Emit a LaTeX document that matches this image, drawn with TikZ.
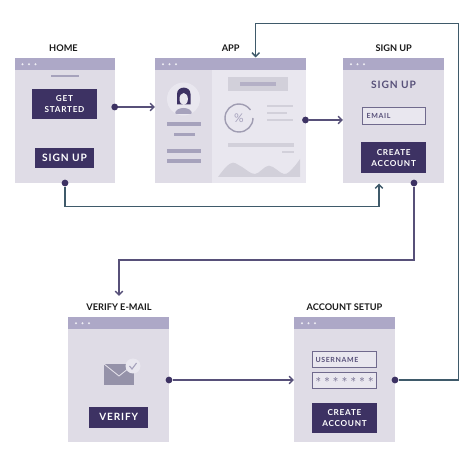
\documentclass[tikz,border=0pt]{standalone}
\usepackage{fontspec}
\usepackage{xcolor}
\setmainfont{Lato}
\newfontfamily\widefont[LetterSpace=9]{Lato}
\usetikzlibrary{arrows.meta,calc,positioning}
\definecolor{winbody}{HTML}{DFDCE6}
\definecolor{winlight}{HTML}{E9E7EF}
\definecolor{winbar}{HTML}{ADA8C7}
\definecolor{inkdark}{HTML}{3D3263}
\definecolor{inkline}{HTML}{575079}
\definecolor{inkteal}{HTML}{3F5A6A}
\definecolor{inkgrey}{HTML}{A6A2BC}
\definecolor{palegrey}{HTML}{D2D0DA}
\tikzset{
  window/.style={fill=winbody,anchor=north west,inner sep=0pt,minimum width=#1,minimum height=125},
  title/.style={font=\bfseries\fontsize{9.2}{10}\selectfont,text=black!90,inner sep=0pt},
  button/.style={fill=inkdark,text=white,font=\widefont\bfseries\fontsize{8.2}{11}\selectfont,
    align=center,inner sep=0pt},
  field/.style={fill=winlight,draw=inkline!85,line width=0.9pt,text=inkline,inner sep=0pt,
    font=\widefont\bfseries\fontsize{7}{8}\selectfont},
  portdot/.style={circle,fill=inkdark,inner sep=0pt,minimum size=6.8},
  linkline/.style={-{Straight Barb[length=3.8pt,width=7.5pt]},line width=1.5pt,inkline},
  linkteal/.style={linkline,inkteal},
}
\begin{document}
\begin{tikzpicture}[x=1pt,y=-1pt]
    \useasboundingbox (0,0) rectangle (472,457);
    \node[window=100.5] (home) at (14.5,58) {};
    \node[window=150.5] (app) at (155,58) {};
    \node[window=101] (signup) at (343,58) {};
    \node[window=101] (verify) at (68,317) {};
    \node[window=101] (setup) at (294,317) {};
    \fill[winlight] (212,58) rectangle (app.south east);
    \foreach \win in {home,app,signup,verify,setup} {
      \fill[winbar] (\win.north west) rectangle ($(\win.north east)+(0,12.5)$);
      \foreach \dotx in {8,14.5,21}
        \fill[white!80!winbar] ($(\win.north west)+(\dotx,6.2)$) circle (1.1);
    }
    \node[title] (hometitle) at (63.5,47.7) {HOME};
    \node[title] (apptitle) at (230.7,47.7) {APP};
    \node[title] (signuptitle) at (393.7,47.7) {SIGN UP};
    \node[title] (verifytitle) at (119,307) {VERIFY E-MAIL};
    \node[title] (setuptitle) at (344.5,307) {ACCOUNT SETUP};
    \fill[inkgrey] (51,75) rectangle (79,77.5);
    \node[button,minimum width=65,minimum height=30.5] (getstarted) at (64.5,104) {GET\\STARTED};
    \node[button,minimum width=59,minimum height=20.5,font=\widefont\bfseries\fontsize{10.2}{11}\selectfont] (homesign) at (64.5,158) {SIGN UP};
    \node[text=inkline,font=\widefont\bfseries\fontsize{10.2}{11}\selectfont,inner sep=0pt] (signuphead) at (393.5,85) {SIGN UP};
    \node[field,minimum width=63,minimum height=17.5,text width=54,align=left] (email) at (393.7,116) {EMAIL};
    \node[button,minimum width=65,minimum height=30.5] (createone) at (393.7,157.7) {CREATE\\ACCOUNT};
    \node[field,minimum width=64,minimum height=16,text width=58,align=left] (username) at (344.5,359.5) {USERNAME};
    \node[field,minimum width=64,minimum height=16,text width=58,align=left,font=\bfseries\fontsize{11}{8}\selectfont] (password) at (344.5,380) {$\ast\,\ast\,\ast\,\ast\,\ast\,\ast\,\ast$};
    \node[button,minimum width=65,minimum height=30] (createtwo) at (344.5,418) {CREATE\\ACCOUNT};
    \node[button,minimum width=59.5,minimum height=20.5,font=\widefont\bfseries\fontsize{10}{11}\selectfont] (verifybtn) at (118.7,417.3) {VERIFY};
    \fill[inkgrey!90!black] (104,364) rectangle (134,385);
    \draw[winbody,line width=0.9pt] (104,364) -- (119,376) -- (134,364);
    \fill[winlight] (133,366) circle (7.5);
    \draw[inkgrey,line width=1.1pt] (129.5,366) -- (132,369) -- (136.5,363);
    \fill[winlight] (183.5,99) circle (16.5);
    \begin{scope}
      \clip (183.5,99) circle (16.5);
      \fill[inkgrey] (175,114) .. controls (175,106) and (192,106) .. (192,114) -- cycle;
    \end{scope}
    \fill[inkdark] (177,104.5) -- (177,94) .. controls (177,85.5) and (190.5,85.5) .. (190.5,94) -- (190.5,104.5) -- cycle;
    \fill[winlight] (183.7,99) ellipse (4.2 and 6);
    \fill[inkgrey] (167,122) rectangle (201,126);
    \fill[inkgrey] (173.5,133) rectangle (194.5,136.5);
    \fill[inkgrey] (167,149) rectangle (201,153);
    \fill[inkgrey] (167,159) rectangle (201,163);
    \fill[palegrey] (228,77) rectangle (288,91);
    \fill[inkgrey!80!winlight] (240,82.5) rectangle (276,86);
    \draw[inkgrey!90!black!90,line width=1.4pt] (253,118) arc (0:325:14);
    \node[text=inkgrey,font=\fontsize{12}{12}\selectfont,inner sep=0pt] (percent) at (239,118) {\%};
    \fill[palegrey] (267,105) rectangle (293,107.5);
    \fill[palegrey] (267,112) rectangle (287,114.5);
    \fill[palegrey] (267,119) rectangle (293,121.5);
    \fill[palegrey] (228,143) rectangle (294,147.5);
    \fill[palegrey] (282,151) rectangle (294,153.5);
    \fill[palegrey] (218,177) -- plot[smooth,tension=0.6] coordinates {(218,177) (226,167) (233,162.7) (242,167) (255,174) (269,165.7) (284,174) (293,168) (300,159)} -- (300,177) -- cycle;
    \node[portdot] (homeright) at (114.7,107) {};
    \node[portdot] (homedown) at (65,183) {};
    \node[portdot] (appright) at (305.5,120) {};
    \node[portdot] (signupdown) at (414,183) {};
    \node[portdot] (verifyright) at (169,380) {};
    \node[portdot] (setupright) at (395,380) {};
    \coordinate (homebend) at (65,206.3);
    \coordinate (signupbend) at (414,260);
    \coordinate (setupbend) at (458.5,380);
    \coordinate (topbend) at (458.5,23.5);
    \draw[linkline] (homeright) -- (homeright -| app.west);
    \draw[linkline] (appright) -- (appright -| signup.west);
    \draw[linkline] (verifyright) -- (verifyright -| setup.west);
    \draw[linkteal] (homedown) -- (homebend) -| (379,183.5);
    \draw[linkline] (signupdown) -- (signupbend) -| (119,296);
    \draw[linkteal] (setupright) -- (setupbend) -- (topbend) -| (255.7,57.5);
\end{tikzpicture}
\end{document}
